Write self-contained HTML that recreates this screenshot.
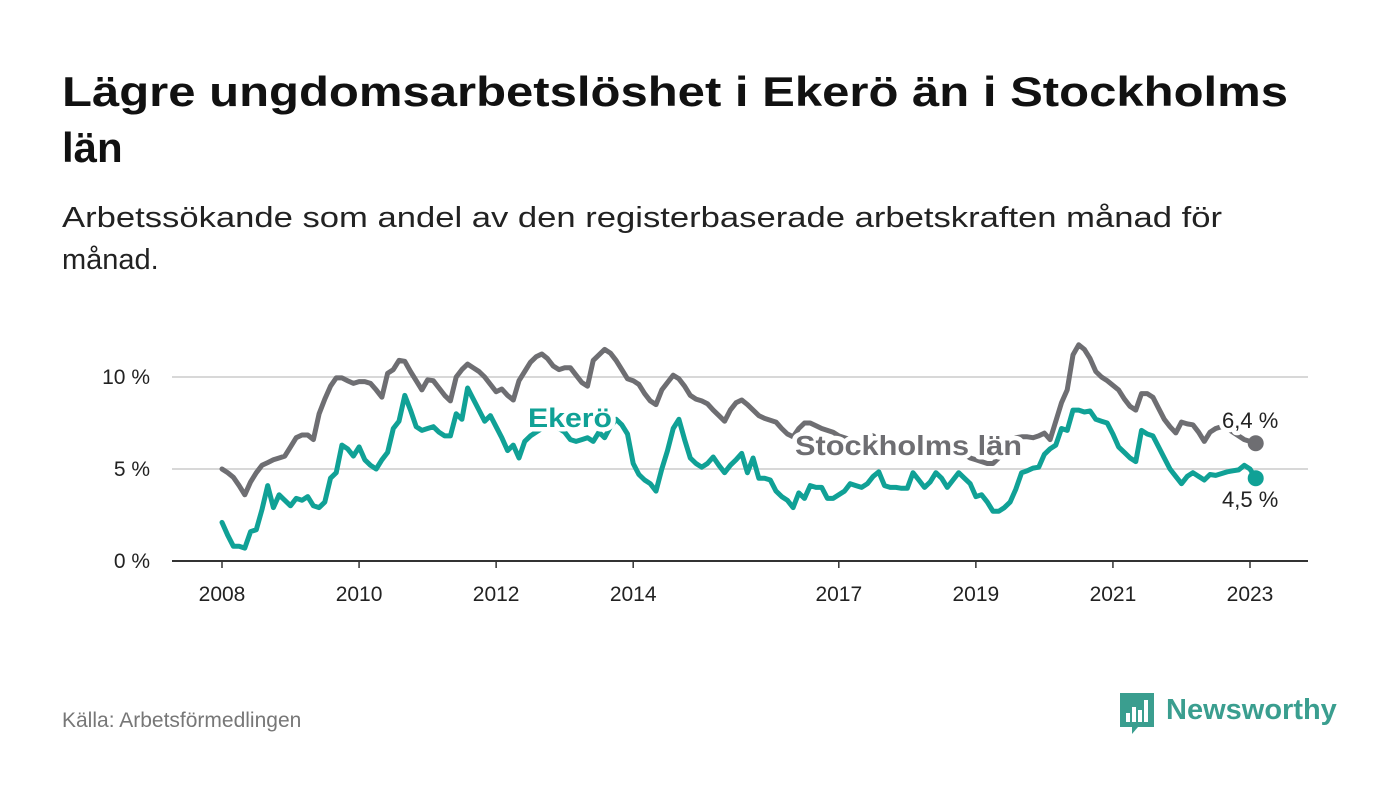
<!DOCTYPE html>
<html><head><meta charset="utf-8"><style>
html,body{margin:0;padding:0;background:#fff;}
svg{display:block;font-family:"Liberation Sans",sans-serif;}
</style></head><body>
<svg id="chart" width="1400" height="794" viewBox="0 0 1400 794">
<text x="62" y="106" font-size="42" font-weight="bold" fill="#111" textLength="1226" lengthAdjust="spacingAndGlyphs">Lägre ungdomsarbetslöshet i Ekerö än i Stockholms</text>
<text x="62" y="162" font-size="42" font-weight="bold" fill="#111">län</text>
<text x="62" y="227" font-size="29" fill="#222" textLength="1160" lengthAdjust="spacingAndGlyphs">Arbetssökande som andel av den registerbaserade arbetskraften månad för</text>
<text x="62" y="269" font-size="29" fill="#222">månad.</text>
<g id="grid"></g>
<g id="xaxis"></g>
<g id="lines"></g>
<g id="labels"></g>
<text x="62" y="727" font-size="21" fill="#777">Källa: Arbetsförmedlingen</text>
<g>
<path d="M1120 693 h34 v34 h-16 l-6 7 v-7 h-12 z" fill="#3a9e8f"/>
<rect x="1126" y="713" width="4" height="9" fill="#fff"/><rect x="1132" y="707" width="4" height="15" fill="#fff"/><rect x="1138" y="710" width="4" height="12" fill="#fff"/><rect x="1144" y="700" width="4" height="22" fill="#fff"/>
<text x="1166" y="719" font-size="29" font-weight="bold" fill="#3a9e8f">Newsworthy</text>
</g>
</svg>
<script>
const years=[2008,2010,2012,2014,2017,2019,2021,2023];
const yTicks=[0,5,10];
const yTickLabels=["0 %","5 %","10 %"];
const stockholm=[5.0,4.8,4.55,4.1,3.6,4.3,4.8,5.2,5.35,5.5,5.6,5.7,6.2,6.7,6.85,6.85,6.6,8.0,8.8,9.5,9.95,9.95,9.8,9.65,9.75,9.75,9.65,9.3,8.9,10.2,10.4,10.9,10.85,10.3,9.8,9.3,9.85,9.8,9.4,9.0,8.7,10.0,10.4,10.7,10.5,10.3,10.0,9.6,9.2,9.35,9.0,8.75,9.8,10.3,10.8,11.1,11.25,11.0,10.6,10.4,10.5,10.5,10.1,9.7,9.5,10.9,11.2,11.5,11.3,10.9,10.4,9.9,9.8,9.6,9.1,8.7,8.5,9.3,9.7,10.1,9.9,9.5,9.0,8.8,8.7,8.55,8.2,7.9,7.6,8.2,8.6,8.75,8.5,8.2,7.9,7.75,7.65,7.55,7.2,6.9,6.75,7.2,7.5,7.5,7.35,7.2,7.1,7.0,6.8,6.7,6.6,6.5,6.6,6.9,6.8,6.6,6.5,6.4,6.3,6.2,6.3,6.5,6.4,6.2,6.1,6.0,5.9,6.0,6.1,6.0,5.8,5.6,5.5,5.4,5.3,5.3,5.6,6.0,6.4,6.7,6.75,6.75,6.7,6.8,6.95,6.6,7.6,8.6,9.3,11.2,11.75,11.5,11.0,10.3,10.0,9.8,9.55,9.3,8.8,8.4,8.2,9.1,9.1,8.9,8.3,7.7,7.3,6.96,7.55,7.45,7.4,7.0,6.5,7.0,7.2,7.3,7.2,7.0,6.8,6.6,6.5,6.4];
const ekero=[2.1,1.4,0.8,0.8,0.7,1.6,1.7,2.8,4.1,2.9,3.6,3.3,3.0,3.4,3.3,3.5,3.0,2.9,3.2,4.5,4.8,6.3,6.1,5.7,6.2,5.5,5.2,5.0,5.5,5.9,7.2,7.6,9.0,8.2,7.3,7.1,7.2,7.3,7.0,6.8,6.8,8.0,7.7,9.4,8.8,8.2,7.6,7.9,7.3,6.7,6.0,6.3,5.6,6.5,6.8,7.0,7.2,7.3,7.3,7.2,7.0,6.6,6.5,6.6,6.7,6.5,7.0,6.7,7.3,7.7,7.4,6.9,5.3,4.7,4.4,4.2,3.8,5.0,6.0,7.2,7.7,6.6,5.6,5.3,5.1,5.3,5.65,5.2,4.8,5.2,5.5,5.85,4.8,5.6,4.5,4.5,4.4,3.8,3.5,3.3,2.9,3.7,3.4,4.1,4.0,4.0,3.4,3.4,3.6,3.8,4.2,4.1,4.0,4.2,4.6,4.85,4.1,4.0,4.0,3.95,3.95,4.8,4.4,4.0,4.3,4.8,4.5,4.0,4.4,4.8,4.5,4.2,3.5,3.6,3.2,2.7,2.7,2.9,3.2,3.9,4.8,4.9,5.05,5.1,5.8,6.1,6.3,7.2,7.1,8.2,8.2,8.1,8.15,7.7,7.6,7.5,6.9,6.2,5.9,5.6,5.4,7.1,6.9,6.8,6.2,5.6,5.0,4.6,4.2,4.6,4.8,4.6,4.4,4.7,4.65,4.75,4.85,4.9,4.95,5.2,5.0,4.5];
const startYear=2008;
const NS="http://www.w3.org/2000/svg";
const x=m=>222+m*(1250-222)/180;
const y=v=>561-v*18.4;
function mk(tag,attrs,parent){const e=document.createElementNS(NS,tag);for(const k in attrs)e.setAttribute(k,attrs[k]);parent.appendChild(e);return e;}
const grid=document.getElementById('grid'),xa=document.getElementById('xaxis'),lines=document.getElementById('lines'),lab=document.getElementById('labels');
yTicks.forEach((t,i)=>{
  const l=mk('line',{x1:172,x2:1308,y1:y(t),y2:y(t),stroke:t===0?'#333':'#d8d8d8','stroke-width':2},grid);
  
  
  const tx=mk('text',{x:150,y:y(t)+7,'text-anchor':'end','font-size':21,fill:'#222'},grid);
  tx.textContent=yTickLabels[i];
  
  
});
years.forEach(yr=>{
  const px=x((yr-startYear)*12);
  const tk=mk('line',{x1:px,x2:px,y1:561,y2:568,stroke:'#333','stroke-width':1.5},xa);
  
  
  const tx=mk('text',{x:px,y:601,'text-anchor':'middle','font-size':21,fill:'#222'},xa);
  tx.textContent=yr;
  
  
});
function series(data,color,name){
  const d=data.map((v,i)=>(i?'L':'M')+x(i).toFixed(1)+' '+y(v).toFixed(1)).join(' ');
  const p=mk('path',{d:d,fill:'none',stroke:color,'stroke-width':5,'stroke-linejoin':'round','stroke-linecap':'round'},lines);
  
  
  const n=data.length-1;
  const c=mk('circle',{cx:x(n),cy:y(data[n]),r:8,fill:color},lines);
  
  
}
series(stockholm,'#6e6e72','stockholm');
series(ekero,'#10a196','ekero');
function label(txt,px,py,color,bold,size,name,len){
  const a={x:px,y:py,'font-size':size,'font-weight':bold?'bold':'normal',fill:color,stroke:'#fff','stroke-width':9,'paint-order':'stroke','stroke-linejoin':'round'};
  if(len){a.textLength=len;a.lengthAdjust='spacingAndGlyphs';}
  const t=mk('text',a,lab);
  t.textContent=txt;
  
  
}
label('Ekerö',528,427,'#10a196',true,27,'ekero-label',84);
label('Stockholms län',795,455,'#6e6e72',true,28,'stockholm-label',227);
const n=stockholm.length-1;
label(String(stockholm[n]).replace('.',',')+' %',1222,428,'#222',false,22,'stockholm-end-value');
label(String(ekero[ekero.length-1]).replace('.',',')+' %',1222,507,'#222',false,22,'ekero-end-value');
</script>
</body></html>
